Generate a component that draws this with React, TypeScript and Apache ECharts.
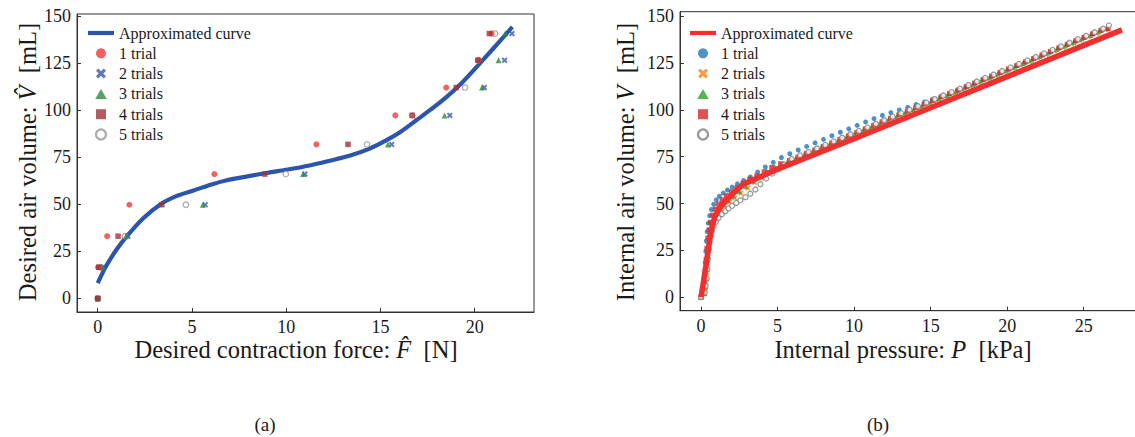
import React, { useEffect, useRef } from 'react';
import * as echarts from 'echarts';

const SERIF = 'Liberation Serif';
const ZW = '\u200b';

// ---------- (a) Desired air volume vs desired contraction force ----------
const leftXTicks = [0, 5, 10, 15, 20];
const yTicks = [0, 25, 50, 75, 100, 125, 150];

const leftCurve = [
  [0, 8.1], [0.41, 16.6], [1, 26], [1.55, 33.1], [2.4, 42.5], [3.32, 50], [4.2, 54.5],
  [5.08, 57.4], [6, 60.5], [6.85, 62.8], [8, 65], [9, 66.8], [10, 68.4], [11.24, 70.7],
  [12.3, 73.2], [13.4, 76], [14.4, 79.5], [15.3, 84], [16.1, 88.8], [16.9, 94.7],
  [17.7, 100.6], [18.5, 107], [19.3, 114.4], [20.1, 123], [21.0, 133], [22.0, 144.3],
];
const leftTrial1 = [
  [0, 0], [0.02, 16.6], [0.5, 33.1], [1.68, 49.8], [6.19, 66.1], [11.6, 81.9],
  [15.79, 97.3], [18.49, 112.1], [20.2, 126.6], [20.9, 140.8],
];
const leftTrial2 = [
  [0, 0], [0.3, 16.6], [1.6, 33.1], [5.7, 49.8], [10.99, 66.1], [15.6, 81.9],
  [18.68, 97.3], [20.51, 112.1], [21.59, 126.6], [21.98, 140.8],
];
const leftTrial3 = [
  [0, 0], [0.28, 16.6], [1.5, 33.1], [5.58, 49.8], [10.9, 66.1], [15.4, 81.9],
  [18.4, 97.3], [20.39, 112.1], [21.27, 126.6], [21.62, 140.8],
];
const leftTrial4 = [
  [0, 0], [0.05, 16.6], [1.08, 33.1], [3.4, 49.8], [8.87, 66.1], [13.28, 81.9],
  [16.69, 97.3], [19.02, 112.1], [20.18, 126.6], [20.78, 140.8],
];
const leftTrial5 = [
  [0, 0], [0.15, 16.6], [1.45, 33.1], [4.68, 49.8], [9.98, 66.1], [14.29, 81.9],
  [16.69, 97.3], [19.49, 112.1], [20.18, 126.6], [21.08, 140.8],
];

// ---------- (b) Internal air volume vs internal pressure ----------
const rightXTicks = [0, 5, 10, 15, 20, 25];

const rightCurve = [
  [0, 0], [0.25, 13], [0.5, 27], [0.7, 37], [0.9, 43], [1.15, 47], [1.45, 50], [1.8, 53],
  [2.3, 57], [2.8, 60.5], [5, 68.3], [10, 84.6], [15, 101.2], [20, 117.8], [25, 134.5], [27.5, 142.8],
];
const rightTrial1 = [
  [0, 0], [0.1, 2.5], [0.17, 7], [0.22, 12.5], [0.27, 18.5], [0.31, 24.5], [0.35, 30], [0.4, 35],
  [0.47, 39.5], [0.56, 43.5], [0.68, 46.8], [0.83, 49.6], [1.0, 52], [1.2, 53.9], [1.45, 55.6],
  [1.72, 57.2], [2.03, 58.8], [2.38, 60.5], [2.78, 62.3], [3.22, 64.2], [3.7, 66.8], [4.2, 69.5],
  [4.72, 72.0], [5.25, 74.6], [5.8, 76.6], [6.35, 78.6], [6.9, 80.5], [7.45, 82.4], [8.0, 84.3],
  [8.55, 86.2], [9.1, 88.1], [9.65, 89.9], [10.2, 91.8], [10.75, 93.6], [11.3, 95.4], [11.85, 97.1],
  [12.4, 98.6], [12.95, 100.0], [13.5, 101.4], [14.05, 102.9], [14.6, 104.3], [15.15, 105.7],
  [15.7, 107.2], [16.25, 108.6], [16.8, 110.5], [17.35, 112.3], [17.9, 114.2], [18.45, 116.1],
  [19.0, 118.0], [19.55, 119.9], [20.1, 121.7], [20.65, 123.6], [21.2, 125.5], [21.75, 127.4],
  [22.3, 129.3], [22.85, 131.1], [23.4, 133.0], [23.95, 134.9], [24.5, 136.8], [25.05, 138.7],
  [25.6, 140.6], [26.15, 142.4],
];
const rightTrial2 = [
  [0, 0], [0.2, 1.5], [0.28, 4], [0.33, 8], [0.37, 13], [0.41, 18], [0.45, 23], [0.48, 28],
  [0.52, 32], [0.6, 35.5], [0.72, 39], [0.88, 42], [1.08, 44.5], [1.3, 46.8], [1.55, 48.8],
  [1.85, 50.8], [2.2, 53], [2.6, 55.5], [3.05, 58.3], [3.5, 61.2], [3.95, 63.8], [4.45, 66.5],
  [4.95, 69.1], [5.5, 71.2], [6.05, 73.1], [6.6, 75.0], [7.15, 76.9], [7.7, 78.7], [8.25, 80.6],
  [8.8, 82.5], [9.35, 84.4], [9.9, 86.3], [10.45, 88.1], [11.0, 90.0], [11.55, 91.9], [12.1, 93.8],
  [12.65, 95.7], [13.2, 97.6], [13.75, 99.4], [14.3, 101.3], [14.85, 103.2], [15.4, 105.1],
  [15.95, 107.0], [16.5, 108.9], [17.05, 110.7], [17.6, 112.6], [18.15, 114.5], [18.7, 116.4],
  [19.25, 118.3], [19.8, 120.2], [20.35, 122.0], [20.9, 123.9], [21.45, 125.8], [22.0, 127.7],
  [22.55, 129.6], [23.1, 131.5], [23.65, 133.3], [24.2, 135.2], [24.75, 137.1], [25.3, 139.0],
  [25.85, 140.9], [26.4, 142.8],
];
const rightTrial3 = [
  [0, 0], [0.22, 2], [0.3, 5.5], [0.35, 10], [0.39, 15], [0.43, 20], [0.46, 25], [0.5, 30],
  [0.56, 34], [0.66, 37.8], [0.8, 41.2], [0.98, 44.2], [1.2, 47], [1.45, 49.4], [1.75, 51.8],
  [2.1, 54], [2.5, 56.6], [2.92, 59.2], [3.36, 62.0], [3.82, 64.7], [4.3, 67.2], [4.8, 69.4],
  [5.22, 70.9], [5.64, 72.2], [6.19, 74.1], [6.74, 76.0], [7.29, 77.8], [7.84, 79.7], [8.39, 81.6],
  [8.94, 83.5], [9.49, 85.4], [10.04, 87.2], [10.59, 89.1], [11.14, 91.0], [11.69, 92.9],
  [12.24, 94.8], [12.79, 96.7], [13.34, 98.5], [13.89, 100.4], [14.44, 102.3], [14.99, 104.2],
  [15.54, 106.1], [16.09, 107.9], [16.64, 109.8], [17.19, 111.7], [17.74, 113.6], [18.29, 115.5],
  [18.84, 117.3], [19.39, 119.2], [19.94, 121.1], [20.49, 123.0], [21.04, 124.9], [21.59, 126.7],
  [22.14, 128.6], [22.69, 130.5], [23.24, 132.4], [23.79, 134.3], [24.34, 136.2], [24.89, 138.0],
  [25.44, 139.9], [25.99, 141.8], [26.54, 143.7],
];
const rightTrial4 = [
  [0, 0], [0.12, 3], [0.2, 8], [0.27, 14], [0.33, 20], [0.38, 26], [0.44, 31.5], [0.52, 36],
  [0.62, 40], [0.76, 43.8], [0.93, 47], [1.14, 49.7], [1.38, 52], [1.66, 54.2], [1.98, 56.3],
  [2.34, 58.5], [2.74, 60.8], [3.18, 63.0], [3.64, 64.8], [4.12, 67.0], [4.62, 69.3], [5.2, 71.3],
  [5.78, 73.0], [6.33, 74.9], [6.88, 76.8], [7.43, 78.6], [7.98, 80.5], [8.53, 82.4], [9.08, 84.3],
  [9.63, 86.2], [10.18, 88.0], [10.73, 89.9], [11.28, 91.8], [11.83, 93.7], [12.38, 95.6],
  [12.93, 97.5], [13.48, 99.3], [14.03, 101.2], [14.58, 103.1], [15.13, 105.0], [15.68, 106.9],
  [16.23, 108.7], [16.78, 110.6], [17.33, 112.5], [17.88, 114.4], [18.43, 116.3], [18.98, 118.1],
  [19.53, 120.0], [20.08, 121.9], [20.63, 123.8], [21.18, 125.7], [21.73, 127.5], [22.28, 129.4],
  [22.83, 131.3], [23.38, 133.2], [23.93, 135.1], [24.48, 137.0], [25.03, 138.8], [25.58, 140.7],
  [26.13, 142.6], [26.6, 143.4],
];
const rightTrial5 = [
  [0, 0], [0.24, 2.5], [0.3, 6], [0.36, 10], [0.41, 15], [0.46, 20.5], [0.5, 25.5], [0.55, 29.5],
  [0.61, 32.6], [0.71, 35.5], [0.82, 37.9], [0.97, 40.3], [1.15, 42.4], [1.36, 44.3], [1.59, 45.9],
  [1.8, 47.4], [2.03, 48.8], [2.3, 50.3], [2.57, 51.7], [2.9, 53.4], [3.22, 55.2], [3.55, 57.5],
  [3.88, 60.3], [4.25, 63.3], [4.65, 66.0], [5.05, 68.5], [5.45, 70.8], [5.92, 73.8], [6.47, 75.7],
  [7.02, 77.5], [7.57, 79.4], [8.12, 81.3], [8.67, 83.2], [9.22, 85.1], [9.77, 87.0], [10.32, 88.8],
  [10.87, 90.7], [11.42, 92.6], [11.97, 94.5], [12.52, 96.4], [13.07, 98.3], [13.62, 100.1],
  [14.17, 102.0], [14.72, 103.9], [15.27, 105.8], [15.82, 107.7], [16.37, 109.5], [16.92, 111.4],
  [17.47, 113.3], [18.02, 115.2], [18.57, 117.1], [19.12, 118.9], [19.67, 120.8], [20.22, 122.7],
  [20.77, 124.6], [21.32, 126.5], [21.87, 128.3], [22.42, 130.2], [22.97, 132.1], [23.52, 134.0],
  [24.07, 135.9], [24.62, 137.8], [25.17, 139.6], [25.72, 141.5], [26.27, 143.4], [26.65, 145.2],
];

const X_PATH =
  'path://M-1,-0.55L-0.55,-1L0,-0.45L0.55,-1L1,-0.55L0.45,0L1,0.55L0.55,1L0,0.45L-0.55,1L-1,0.55L-0.45,0Z';
const TRI_PATH = 'path://M0,-1L1.1,0.9L-1.1,0.9Z';
const SQ_PATH = 'path://M0,0H1V1H0Z';
const LINE_ICON = 'path://M0,0H26V4.2H0Z';

const AXIS_COLOR = '#333';
const TEXT_COLOR = '#1a1a1a';

function valueAxis(gridIndex: number, min: number, max: number, ticks: number[]) {
  return {
    type: 'value',
    gridIndex,
    min,
    max,
    splitLine: { show: false },
    axisLine: { show: true, onZero: false, lineStyle: { color: AXIS_COLOR, width: 1 } },
    axisTick: { show: true, inside: true, length: 4, customValues: ticks, lineStyle: { color: AXIS_COLOR } },
    axisLabel: { customValues: ticks, fontFamily: SERIF, fontSize: 18, color: TEXT_COLOR, margin: 6 },
  };
}

function scatter(name: string, data: number[][], idx: number, symbol: string, size: number, itemStyle: any, z = 4) {
  return {
    type: 'scatter',
    name,
    data,
    xAxisIndex: idx,
    yAxisIndex: idx,
    symbol,
    symbolSize: size,
    itemStyle,
    z,
  };
}

const legendBase = {
  orient: 'vertical',
  itemWidth: 26,
  itemHeight: 10,
  itemGap: 4.3,
  selectedMode: false,
  symbolKeepAspect: true,
  textStyle: { fontFamily: SERIF, fontSize: 16, color: TEXT_COLOR, lineHeight: 16 },
  formatter: (n: string) => n.replace(/\u200b/g, ''),
};

const legendItems = (suffix: string) => [
  { name: 'Approximated curve' + suffix, icon: LINE_ICON },
  { name: '1 trial' + suffix, icon: 'circle' },
  { name: '2 trials' + suffix, icon: X_PATH },
  { name: '3 trials' + suffix, icon: TRI_PATH },
  { name: '4 trials' + suffix, icon: SQ_PATH },
  { name: '5 trials' + suffix, icon: 'circle', itemStyle: { borderWidth: 2.3 } },
];

const titleStyle = {
  fontFamily: SERIF,
  fontSize: 24.5,
  fill: TEXT_COLOR,
  align: 'center',
  verticalAlign: 'middle',
  rich: { i: { fontFamily: SERIF, fontSize: 24.5, fontStyle: 'italic', fill: TEXT_COLOR } },
};

const option: any = {
  animation: false,
  backgroundColor: '#ffffff',
  grid: [
    { left: 77, top: 14, width: 457, height: 298, show: true, borderColor: AXIS_COLOR, borderWidth: 1, outerBoundsMode: 'none', containLabel: false },
    { left: 680, top: 11.7, width: 463, height: 299, show: true, borderColor: AXIS_COLOR, borderWidth: 1, outerBoundsMode: 'none', containLabel: false },
  ],
  xAxis: [valueAxis(0, -1.1, 23.15, leftXTicks), valueAxis(1, -1.375, 28.875, rightXTicks)],
  yAxis: [valueAxis(0, -7.2, 151.2, yTicks), valueAxis(1, -7.26, 152.5, yTicks)],
  legend: [
    { ...legendBase, left: 83, top: 20, data: legendItems('') },
    { ...legendBase, left: 685, top: 20, data: legendItems(ZW) },
  ],
  series: [
    {
      type: 'line',
      name: 'Approximated curve',
      data: leftCurve,
      xAxisIndex: 0,
      yAxisIndex: 0,
      smooth: 0.3,
      symbol: 'none',
      lineStyle: { color: '#2b55ad', width: 4.2 },
      itemStyle: { color: '#2b55ad' },
      z: 2,
    },
    scatter('5 trials', leftTrial5, 0, 'circle', 5.5, { color: '#ffffff', borderColor: '#9a9a9a', borderWidth: 1.3 }, 3),
    scatter('1 trial', leftTrial1, 0, 'circle', 6, { color: '#f03a3a' }),
    scatter('2 trials', leftTrial2, 0, X_PATH, 6, { color: '#3656b0' }),
    scatter('3 trials', leftTrial3, 0, TRI_PATH, 6, { color: '#2e8b3a' }),
    scatter('4 trials', leftTrial4, 0, SQ_PATH, 5.5, { color: '#a33238' }),

    scatter('1 trial' + ZW, rightTrial1, 1, 'circle', 5, { color: '#1f77b4' }, 3),
    scatter('2 trials' + ZW, rightTrial2, 1, X_PATH, 5.5, { color: '#ff7f0e' }, 3),
    scatter('3 trials' + ZW, rightTrial3, 1, TRI_PATH, 5.5, { color: '#2ca02c' }, 3),
    scatter('4 trials' + ZW, rightTrial4, 1, SQ_PATH, 5, { color: '#d62728' }, 3),
    scatter('5 trials' + ZW, rightTrial5, 1, 'circle', 5, { color: '#ffffff', borderColor: '#7f7f7f', borderWidth: 1.3 }, 3),
    {
      type: 'line',
      name: 'Approximated curve' + ZW,
      data: rightCurve,
      xAxisIndex: 1,
      yAxisIndex: 1,
      symbol: 'none',
      lineStyle: { color: '#f03030', width: 5.5 },
      itemStyle: { color: '#f03030' },
      z: 4,
    },
  ],
  graphic: [
    { type: 'text', x: 296, y: 349, style: { ...titleStyle, text: 'Desired contraction force: {i|F\u0302}  [N]' } },
    { type: 'text', x: 27, y: 162, rotation: Math.PI / 2, style: { ...titleStyle, text: 'Desired air volume: {i|V\u0302}  [mL]' } },
    { type: 'text', x: 903, y: 349, style: { ...titleStyle, text: 'Internal pressure: {i|P}  [kPa]' } },
    { type: 'text', x: 625, y: 162, rotation: Math.PI / 2, style: { ...titleStyle, text: 'Internal air volume: {i|V}  [mL]' } },
    { type: 'text', x: 265, y: 424, style: { fontFamily: SERIF, fontSize: 19, fill: TEXT_COLOR, align: 'center', verticalAlign: 'middle', text: '(a)' } },
    { type: 'text', x: 878, y: 424, style: { fontFamily: SERIF, fontSize: 19, fill: TEXT_COLOR, align: 'center', verticalAlign: 'middle', text: '(b)' } },
  ],
};

export default function App() {
  const ref = useRef<HTMLDivElement>(null);
  useEffect(() => {
    if (!ref.current) return;
    const chart = echarts.init(ref.current, null, { renderer: 'svg' });
    chart.setOption(option);
    return () => chart.dispose();
  }, []);
  return (
    <div
      ref={ref}
      style={{ position: 'absolute', left: 0, top: 0, width: 1135, height: 437, background: '#fff', overflow: 'hidden' }}
    />
  );
}
